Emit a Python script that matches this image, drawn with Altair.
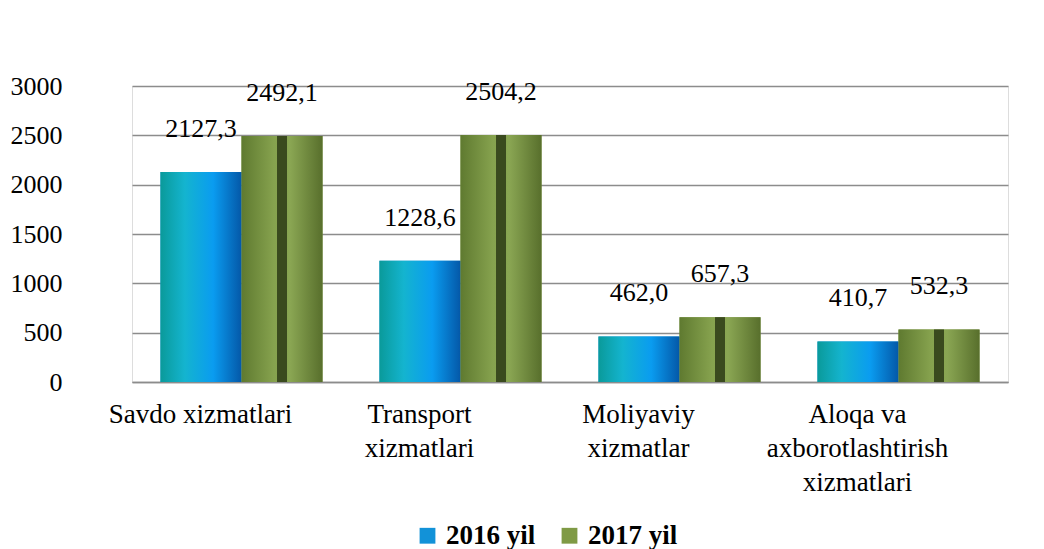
import altair as alt
import pandas as pd

categories = ["Savdo xizmatlari", "Transport xizmatlari", "Moliyaviy xizmatlar",
              "Aloqa va axborotlashtirish xizmatlari"]
cat_lines = {
    "Savdo xizmatlari": ["Savdo xizmatlari"],
    "Transport xizmatlari": ["Transport", "xizmatlari"],
    "Moliyaviy xizmatlar": ["Moliyaviy", "xizmatlar"],
    "Aloqa va axborotlashtirish xizmatlari": ["Aloqa va", "axborotlashtirish", "xizmatlari"],
}
series = ["2016 yil", "2017 yil"]
values_2016 = [2127.3, 1228.6, 462.0, 410.7]
values_2017 = [2492.1, 2504.2, 657.3, 532.3]
y_ticks = [0, 500, 1000, 1500, 2000, 2500, 3000]

rows = []
for c, v in zip(categories, values_2016):
    rows.append({"cat": c, "series": "2016 yil", "value": v})
for c, v in zip(categories, values_2017):
    rows.append({"cat": c, "series": "2017 yil", "value": v})
df = pd.DataFrame(rows)
df["label"] = df["value"].map(lambda v: f"{v:.1f}".replace(".", ","))

FONT = "Liberation Serif"

expr_parts = []
for c in categories:
    lines = cat_lines[c]
    arr = "[" + ",".join(f"'{l}'" for l in lines) + "]"
    expr_parts.append(f"datum.value == '{c}' ? {arr}")
label_expression = " : ".join(expr_parts) + " : datum.value"

x_enc = alt.X("cat:N", sort=categories, title=None,
              scale=alt.Scale(paddingInner=0.26, paddingOuter=0.13),
              axis=alt.Axis(labelAngle=0, labelFont=FONT, labelFontSize=27,
                            labelColor="#000", labelPadding=19, ticks=False,
                            labelOffset=-41,
                            domainColor="#8c8c8c", domainWidth=1.5,
                            labelExpr=label_expression, labelLineHeight=34,
                            labelBaseline="top", labelLimit=300))
y_enc = alt.Y("value:Q", title=None,
              scale=alt.Scale(domain=[0, 3000], nice=False),
              axis=alt.Axis(values=y_ticks, format="d", labelFont=FONT, labelFontSize=26,
                            labelColor="#000", labelPadding=70, ticks=False,
                            domain=False, gridColor="#8c8c8c", gridWidth=1.5))
xo = alt.XOffset("series:N", sort=series, scale=alt.Scale(paddingInner=0, paddingOuter=0))

base = alt.Chart(df)

legend_bars = base.mark_bar().encode(
    x=x_enc, y=y_enc, xOffset=xo,
    color=alt.Color("series:N", sort=series, title=None,
                    scale=alt.Scale(domain=series, range=["#1292d8", "#7f9a45"]),
                    legend=alt.Legend(orient="none", legendX=282, legendY=436,
                                      direction="horizontal", symbolType="square",
                                      symbolSize=250, symbolStrokeWidth=0,
                                      labelFont=FONT, labelFontSize=27,
                                      labelFontWeight="bold", labelColor="#000",
                                      columnPadding=20, labelOffset=5)),
)

blue_grad = alt.Gradient(gradient="linear", x1=0, x2=1, y1=0, y2=0, stops=[
    alt.GradientStop(color="#0a9a9a", offset=0),
    alt.GradientStop(color="#14b4cf", offset=0.3),
    alt.GradientStop(color="#0a9cf0", offset=0.65),
    alt.GradientStop(color="#0458a8", offset=1)])
green_grad = alt.Gradient(gradient="linear", x1=0, x2=1, y1=0, y2=0, stops=[
    alt.GradientStop(color="#5f7a30", offset=0),
    alt.GradientStop(color="#86a24e", offset=0.4),
    alt.GradientStop(color="#8aa653", offset=0.6),
    alt.GradientStop(color="#586f2c", offset=1)])

blue = base.transform_filter(alt.datum.series == "2016 yil").mark_bar(
    color=blue_grad).encode(x=x_enc, y=y_enc, xOffset=xo)
green = base.transform_filter(alt.datum.series == "2017 yil").mark_bar(
    color=green_grad).encode(x=x_enc, y=y_enc, xOffset=xo)
stripe = base.transform_filter(alt.datum.series == "2017 yil").mark_bar(
    color="#3a4a1e", size=10).encode(x=x_enc, y=y_enc, xOffset=xo)

labels = base.mark_text(font=FONT, fontSize=26, color="#000", baseline="bottom",
                        dy=-30).encode(x=x_enc, y=y_enc, xOffset=xo, text="label:N")

chart = alt.layer(legend_bars, blue, green, stripe, labels).properties(
    width=876, height=296,
    autosize=alt.AutoSizeParams(type="none"),
    padding={"left": 124, "top": 78, "right": 28, "bottom": 167},
).configure_view(stroke=None).configure(background="#ffffff")

chart.save("out.html", embed_options={"renderer": "svg", "actions": False})
